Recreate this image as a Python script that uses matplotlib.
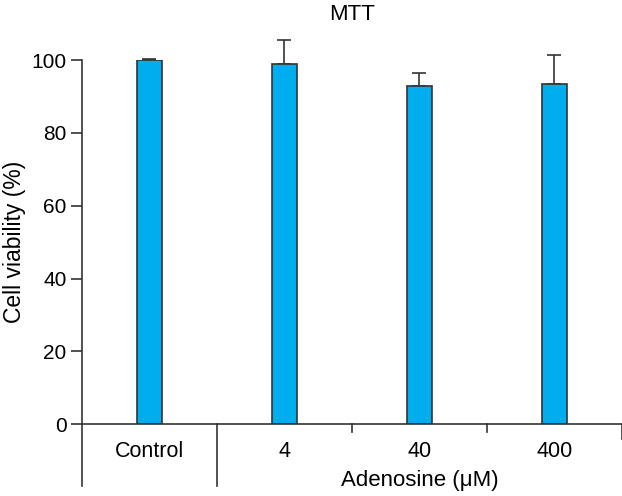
import matplotlib.pyplot as plt
import numpy as np

plt.rcParams['font.family'] = ['Liberation Sans', 'DejaVu Sans']

groups = ['Control', '4', '40', '400']
viability = [100.0, 98.9, 93.0, 93.5]
sem = [0.2, 6.6, 3.5, 7.8]

bar_color = '#00aeef'
line_color = '#333333'

fig = plt.figure(figsize=(6.22, 4.96), dpi=100)
ax = fig.add_axes([0.1318, 0.1446, 0.8682, 0.7344])

x = np.arange(len(groups)) + 0.5
ax.bar(x, viability, width=0.18, color=bar_color, edgecolor=line_color, linewidth=1.2, zorder=2)
ax.errorbar(x, viability, yerr=[np.zeros(len(sem)), sem], fmt='none', ecolor=line_color,
            elinewidth=1.2, capsize=5, capthick=1.2, clip_on=False, zorder=1)

ax.set_xlim(0, 4)
ax.set_ylim(0, 100)
ax.set_yticks([0, 20, 40, 60, 80, 100])
ax.tick_params(axis='y', direction='out', length=8, width=1.2, color=line_color, labelsize=15, pad=3)
ax.set_xticks(x)
ax.set_xticklabels(groups)
ax.tick_params(axis='x', length=0, labelsize=15.5, pad=12)

for s in ['top', 'right']:
    ax.spines[s].set_visible(False)
for s in ['left', 'bottom']:
    ax.spines[s].set_color(line_color)
    ax.spines[s].set_linewidth(1.2)

# lines under the axis that split the groups
tr = ax.get_xaxis_transform()
for xpos, depth in [(0, -0.17), (1, -0.17), (2, -0.022), (3, -0.022), (4, -0.04)]:
    ax.plot([xpos, xpos], [0, depth], color=line_color, lw=1.2, transform=tr, clip_on=False)

ax.text(2.5, -0.155, 'Adenosine (\u03bcM)', transform=tr, ha='center', va='center', fontsize=16)
ax.set_ylabel('Cell viability (%)', fontsize=16.5, labelpad=4)
ax.set_title('MTT', fontsize=16, pad=29)

fig.savefig('out.png', dpi=100)
